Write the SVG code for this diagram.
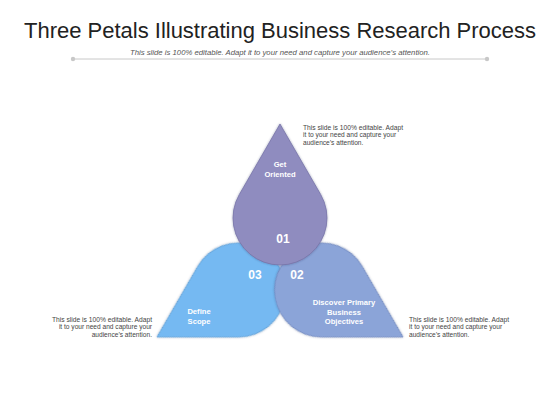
<svg xmlns="http://www.w3.org/2000/svg" width="560" height="420" viewBox="0 0 560 420">
  <defs>
    <path id="petal" d="M280,124 L320.7,194.5 A47,47 0 1 1 239.3,194.5 Z"/>
    <filter id="sh" x="-20%" y="-20%" width="140%" height="140%">
      <feDropShadow dx="0" dy="0" stdDeviation="1.2" flood-color="#1a2a50" flood-opacity="0.35"/>
    </filter>
  </defs>
  <style>
    .title{font-family:"Liberation Sans",Arial,sans-serif;font-size:22px;fill:#222;}
    .sub{font-family:"Liberation Sans",Arial,sans-serif;font-size:6.6px;fill:#555;font-style:italic;}
    .desc{font-family:"Liberation Sans",Arial,sans-serif;font-size:6.6px;fill:#444;}
    .lbl{font-family:"Liberation Sans",Arial,sans-serif;font-size:7.6px;font-weight:bold;fill:#fff;text-anchor:middle;}
    .num{font-family:"Liberation Sans",Arial,sans-serif;font-size:12px;font-weight:bold;fill:#fff;text-anchor:middle;}
  </style>
  <rect width="560" height="420" fill="#fff"/>

  <g id="header">
    <text class="title" x="280" y="38" text-anchor="middle" textLength="512" lengthAdjust="spacing">Three Petals Illustrating Business Research Process</text>
    <text class="sub" x="280" y="54.5" text-anchor="middle" textLength="300" lengthAdjust="spacingAndGlyphs">This slide is 100% editable. Adapt it to your need and capture your audience’s attention.</text>
    <line x1="73" y1="59" x2="487" y2="59" stroke="#c8c8c8" stroke-width="1"/>
    <circle cx="73" cy="59" r="2.2" fill="#c8c8c8"/>
    <circle cx="487" cy="59" r="2.2" fill="#c8c8c8"/>
  </g>

  <g id="connectors"></g>

  <g id="petal-03">
    <use href="#petal" transform="rotate(-120 280 266)" fill="#74b9f2" stroke="#5f9fd8" stroke-width="0.8" filter="url(#sh)"/>
  </g>
  <g id="petal-02">
    <use href="#petal" transform="rotate(120 280 266)" fill="#8ba4d8" stroke="#7088c0" stroke-width="0.8" filter="url(#sh)"/>
  </g>
  <g id="petal-01">
    <use href="#petal" fill="#8f8cbf" stroke="#7773a8" stroke-width="0.8" filter="url(#sh)"/>
  </g>

  <g id="labels-01">
    <text class="lbl" x="280" y="167">Get</text>
    <text class="lbl" x="280" y="177">Oriented</text>
    <text class="num" x="283" y="243">01</text>
  </g>
  <g id="labels-02">
    <text class="num" x="297" y="279">02</text>
    <text class="lbl" x="344" y="305">Discover Primary</text>
    <text class="lbl" x="344" y="314.5">Business</text>
    <text class="lbl" x="344" y="324">Objectives</text>
  </g>
  <g id="labels-03">
    <text class="num" x="255" y="279">03</text>
    <text class="lbl" x="199" y="314">Define</text>
    <text class="lbl" x="199" y="324">Scope</text>
  </g>

  <g id="desc-top">
    <text class="desc" x="303" y="129.5" textLength="100" lengthAdjust="spacingAndGlyphs">This slide is 100% editable. Adapt</text>
    <text class="desc" x="303" y="137">it to your need and capture your</text>
    <text class="desc" x="303" y="144.5">audience’s attention.</text>
  </g>
  <g id="desc-left" text-anchor="end">
    <text class="desc" x="152" y="321.5" textLength="100" lengthAdjust="spacingAndGlyphs">This slide is 100% editable. Adapt</text>
    <text class="desc" x="152" y="329">it to your need and capture your</text>
    <text class="desc" x="152" y="336.5">audience’s attention.</text>
  </g>
  <g id="desc-right">
    <text class="desc" x="409" y="321.5" textLength="100" lengthAdjust="spacingAndGlyphs">This slide is 100% editable. Adapt</text>
    <text class="desc" x="409" y="329">it to your need and capture your</text>
    <text class="desc" x="409" y="336.5">audience’s attention.</text>
  </g>
</svg>
